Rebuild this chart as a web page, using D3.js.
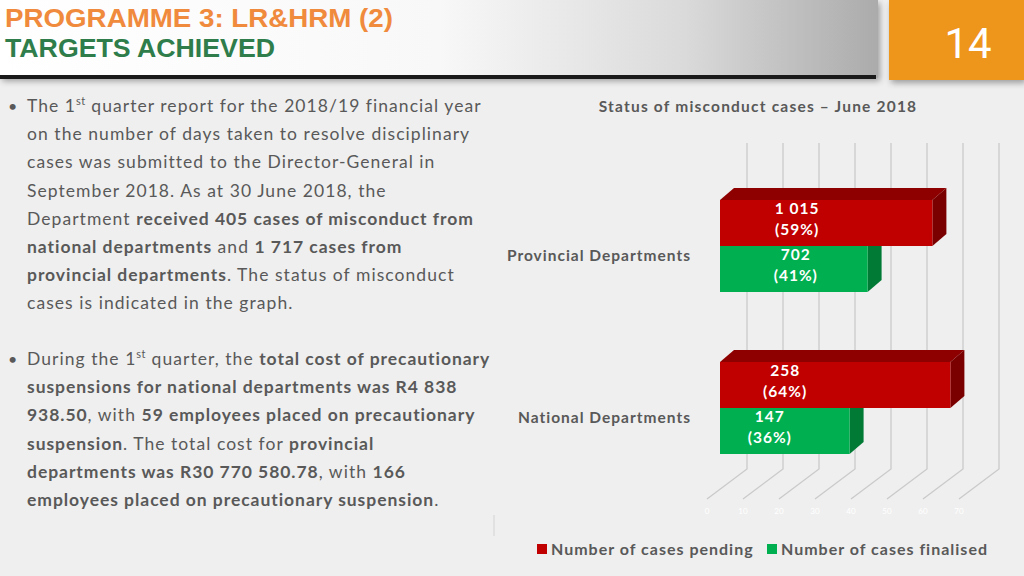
<!DOCTYPE html>
<html><head><meta charset="utf-8">
<script src="https://cdn.jsdelivr.net/npm/d3@7"></script>
<style>html,body{margin:0;padding:0;background:#efefef;}svg{display:block;}</style>
</head><body><svg id="c" width="1024" height="576"></svg>
<script>
// ---- data ----
const categories = ["Provincial Departments", "National Departments"];
const seriesNames = ["Number of cases pending", "Number of cases finalised"];
const pendingCounts = [1015, 258];
const pendingPct = [59, 64];
const finalisedCounts = [702, 147];
const finalisedPct = [41, 36];
const axisTicks = [0, 10, 20, 30, 40, 50, 60, 70];
const chartTitle = "Status of misconduct cases \u2013 June 2018";
const slideTitle1 = "PROGRAMME 3: LR&HRM (2)";
const slideTitle2 = "TARGETS ACHIEVED";
const slideNumber = "14";

const svg = d3.select("#c");
const FONT = "Lato, 'Open Sans', sans-serif";
const TXT = "#595959";

// ---- header ----
const defs = svg.append("defs");
const g1 = defs.append("linearGradient").attr("id","ban").attr("x1","0").attr("x2","1").attr("y1","0").attr("y2","0");
g1.append("stop").attr("offset","0").attr("stop-color","#ffffff");
g1.append("stop").attr("offset","0.5").attr("stop-color","#f8f8f8");
g1.append("stop").attr("offset","0.78").attr("stop-color","#dadada");
g1.append("stop").attr("offset","1").attr("stop-color","#ababab");
const sh = defs.append("filter").attr("id","sh").attr("x","-10%").attr("y","-10%").attr("width","130%").attr("height","140%");
sh.append("feDropShadow").attr("dx",2).attr("dy",3).attr("stdDeviation",3).attr("flood-color","#000").attr("flood-opacity",0.35);

svg.append("rect").attr("x",0).attr("y",0).attr("width",878).attr("height",78).attr("fill","url(#ban)").attr("filter","url(#sh)");
svg.append("rect").attr("x",0).attr("y",75).attr("width",876).attr("height",4).attr("fill","#1a1a1a");
svg.append("rect").attr("x",889).attr("y",0).attr("width",135).attr("height",80).attr("fill","#ee951f").attr("filter","url(#sh)");
svg.append("text").attr("x",968).attr("y",58).attr("text-anchor","middle").attr("fill","#fff")
  .attr("font-family","'Liberation Sans Narrow', 'Roboto', sans-serif").attr("font-size",42).text(slideNumber);
svg.append("text").attr("x",5).attr("y",27).attr("fill","#f08a3c").attr("font-family","'Liberation Sans Narrow', sans-serif")
  .attr("font-weight","bold").attr("font-size",26).attr("textLength",388).attr("lengthAdjust","spacingAndGlyphs").text(slideTitle1);
svg.append("text").attr("x",5).attr("y",57).attr("fill","#2e7d4b").attr("font-family","'Liberation Sans Narrow', sans-serif")
  .attr("font-weight","bold").attr("font-size",26).attr("textLength",270).attr("lengthAdjust","spacingAndGlyphs").text(slideTitle2);

// ---- left text ----
const bullet1 = [
  [["The 1",0],["st",2],[" quarter report for the 2018/19 financial year",3]],
  [["on the number of days taken to resolve disciplinary",0]],
  [["cases was submitted to the Director-General in",0]],
  [["September 2018. As at 30 June 2018, the",0]],
  [["Department ",0],["received 405 cases of misconduct from",1]],
  [["national departments",1],[" and ",0],["1 717 cases from",1]],
  [["provincial departments",1],[". The status of misconduct",0]],
  [["cases is indicated in the graph.",0]]
];
const bullet2 = [
  [["During the 1",0],["st",2],[" quarter, the ",3],["total cost of precautionary",1]],
  [["suspensions for national departments was R4 838",1]],
  [["938.50",1],[", with ",0],["59 employees placed on precautionary",1]],
  [["suspension",1],[". The total cost for ",0],["provincial",1]],
  [["departments was R30 770 580.78",1],[", with ",0],["166",1]],
  [["employees placed on precautionary suspension",1],[".",0]]
];
function para(lines, y0){
  svg.append("text").attr("x",8).attr("y",y0+5).attr("fill",TXT).attr("font-family",FONT).attr("font-size",16).text("\u2022");
  lines.forEach((ln,i)=>{
    const t = svg.append("text").attr("x",27).attr("y",y0+5+i*28.2).attr("fill",TXT).attr("font-family",FONT)
      .attr("font-size",17.5).attr("letter-spacing",1.05);
    ln.forEach(([s,k])=>{
      const ts = t.append("tspan").text(s);
      if(k===1) ts.attr("font-weight","bold").attr("letter-spacing",0.95);
      if(k===2) ts.attr("font-size",11).attr("dy",-7).attr("letter-spacing",0.5);
      if(k===3) ts.attr("dy",7);
    });
  });
}
para(bullet1, 107);
para(bullet2, 360);
svg.append("line").attr("x1",494).attr("x2",494).attr("y1",515).attr("y2",536).attr("stroke","#dcdcdc").attr("stroke-width",1.5);

// ---- chart ----
const x = d3.scaleLinear().domain([0,70]).range([0,252]);
const backX0 = 747, floorX0 = 707, barX0 = 720;
const wallTop = 143, wallBottom = 469, floorFront = 499;
const gy = d3.scalePoint().domain(categories).range([200, 362]);
const sy = d3.scaleBand().domain(["pending","finalised"]).range([0, 92]);
const depthX = 14, depthY = 12;

const grid = svg.append("g").attr("stroke","#cacaca").attr("stroke-width",1.3).attr("fill","none");
axisTicks.forEach(v=>{
  grid.append("path").attr("d", d3.line()([[backX0+x(v),wallTop],[backX0+x(v),wallBottom],[floorX0+x(v),floorFront]]));
});
svg.append("g").selectAll("text").data(axisTicks).join("text")
  .attr("x",v=>floorX0+x(v)).attr("y",514).attr("text-anchor","middle").attr("fill","#ffffff")
  .attr("font-family",FONT).attr("font-size",8).text(d=>d);

const colors = {
  pending:{front:"#c00000", top:"#8e0000", side:"#7a0000"},
  finalised:{front:"#00b050", top:"#008a3e", side:"#007a35"}
};
const labelShift = {pending:[-29,-50], finalised:[2,-15]};
const bars = [];
categories.forEach((c,i)=>{
  bars.push({cat:c, i, s:"finalised", pct:finalisedPct[i], n:finalisedCounts[i]});
  bars.push({cat:c, i, s:"pending", pct:pendingPct[i], n:pendingCounts[i]});
});
const fmt = n => d3.format(",")(n).replace(/,/g," ");
const bg = svg.append("g");
bars.forEach(b=>{
  const y0 = gy(b.cat) + sy(b.s), h = sy.bandwidth();
  const x1 = barX0 + x(b.pct);
  const col = colors[b.s];
  bg.append("path").attr("fill",col.top).attr("d", d3.line()([[barX0,y0],[barX0+depthX,y0-depthY],[x1+depthX,y0-depthY],[x1,y0]])+"Z");
  bg.append("path").attr("fill",col.side).attr("d", d3.line()([[x1,y0],[x1+depthX,y0-depthY],[x1+depthX,y0+h-depthY],[x1,y0+h]])+"Z");
  bg.append("rect").attr("x",barX0).attr("y",y0).attr("width",x(b.pct)).attr("height",h).attr("fill",col.front);
  const lx = (barX0 + x1)/2 + labelShift[b.s][b.i];
  const t = bg.append("text").attr("fill","#fff").attr("font-family",FONT).attr("font-weight","bold").attr("font-size",15.5)
    .attr("letter-spacing",1).attr("text-anchor","middle");
  t.append("tspan").attr("x",lx).attr("y",y0+14).text(fmt(b.n));
  t.append("tspan").attr("x",lx).attr("y",y0+35).text("("+b.pct+"%)");
});

svg.append("g").selectAll("text").data(categories).join("text")
  .attr("x",691).attr("y",c=>gy(c)+sy.bandwidth()+15).attr("text-anchor","end").attr("fill",TXT)
  .attr("font-family",FONT).attr("font-weight","bold").attr("font-size",15.5).attr("letter-spacing",1).text(c=>c);

svg.append("text").attr("x",758).attr("y",112).attr("text-anchor","middle").attr("fill",TXT)
  .attr("font-family",FONT).attr("font-weight","bold").attr("font-size",15.5).attr("letter-spacing",1.2).text(chartTitle);

// legend
const lg = svg.append("g");
const legX = [537, 767];
seriesNames.forEach((s,i)=>{
  lg.append("rect").attr("x",legX[i]).attr("y",544).attr("width",10).attr("height",10).attr("fill",i===0?colors.pending.front:colors.finalised.front);
  lg.append("text").attr("x",legX[i]+14).attr("y",555).attr("fill",TXT).attr("font-family",FONT).attr("font-weight","bold")
    .attr("font-size",16).attr("letter-spacing",1).text(s);
});
</script></body></html>
